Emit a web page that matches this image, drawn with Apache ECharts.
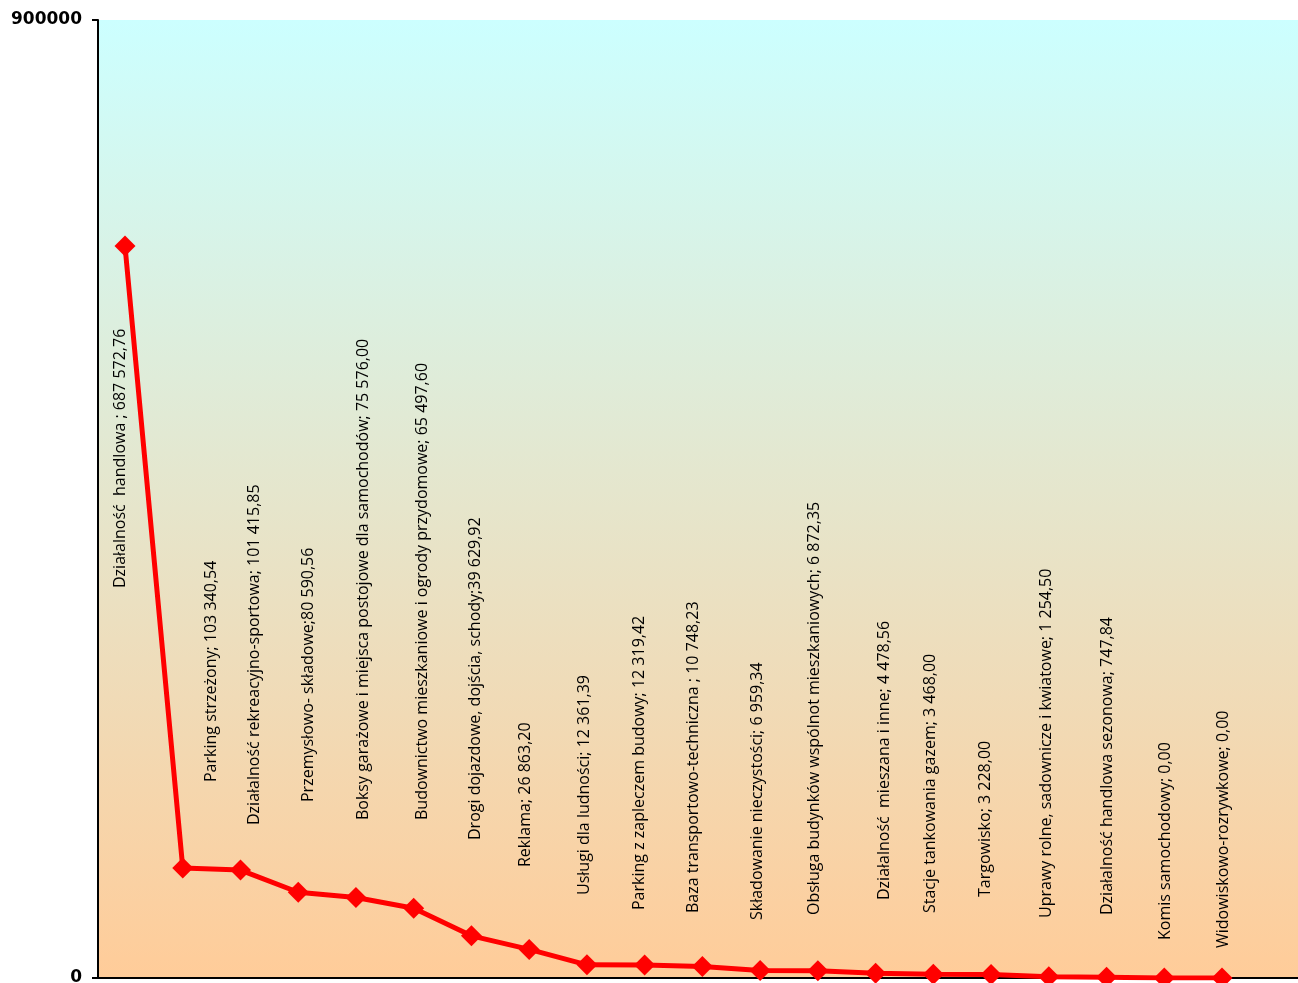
<!DOCTYPE html>
<html>
<head>
<meta charset="utf-8">
<script src="https://cdn.jsdelivr.net/npm/echarts@6/dist/echarts.min.js"></script>
<style>
  html, body { margin: 0; padding: 0; background: #fff; }
  #main { width: 1298px; height: 983px; }
</style>
</head>
<body>
<div id="main"></div>
<script>
// kategorie (nazwy) i wartości
var names = [
  'Działalność  handlowa', 'Parking strzeżony', 'Działalność rekreacyjno-sportowa',
  'Przemysłowo- składowe', 'Boksy garażowe i miejsca postojowe dla samochodów',
  'Budownictwo mieszkaniowe i ogrody przydomowe', 'Drogi dojazdowe, dojścia, schody',
  'Reklama', 'Usługi dla ludności', 'Parking z zapleczem budowy',
  'Baza transportowo-techniczna', 'Składowanie nieczystości',
  'Obsługa budynków wspólnot mieszkaniowych', 'Działalność  mieszana i inne',
  'Stacje tankowania gazem', 'Targowisko', 'Uprawy rolne, sadownicze i kwiatowe',
  'Działalność handlowa sezonowa', 'Komis samochodowy', 'Widowiskowo-rozrywkowe'
];
var seps = [' ; ', '; ', '; ', ';', '; ', '; ', ';', '; ', '; ', '; ',
  ' ; ', '; ', '; ', '; ', '; ', '; ', '; ', '; ', '; ', '; '];
var values = [
  687572.76, 103340.54, 101415.85, 80590.56, 75576.00, 65497.60, 39629.92,
  26863.20, 12361.39, 12319.42, 10748.23, 6959.34, 6872.35, 4478.56,
  3468.00, 3228.00, 1254.50, 747.84, 0.00, 0.00
];
var yTicks = [0, 900000];

// rozmieszczenie etykiet (px): przesunięcie w poziomie i dolna krawędź tekstu
var labelShiftX = [-5, 29, 14, 10, 7, 9, 4, -4, -2, -5, -9, -3, -3, 9, -3, -6, -2, 1, 1, 1];
var labelBottom = [588, 782, 825, 802, 820, 820, 840, 867, 895, 910, 913, 920, 915, 900, 913, 897, 918, 915, 940, 948];

function fmt(v) { // 687572.76 -> "687 572,76"
  var s = v.toFixed(2).split('.');
  return s[0].replace(/\B(?=(\d{3})+(?!\d))/g, ' ') + ',' + s[1];
}

var chart = echarts.init(document.getElementById('main'));
var option = {
  animation: false,
  grid: {
    left: 98, right: 0, top: 20, bottom: 5,
    outerBoundsMode: 'none',
    show: true,
    borderWidth: 0,
    backgroundColor: new echarts.graphic.LinearGradient(0, 0, 0, 1, [
      { offset: 0, color: '#ccffff' },
      { offset: 1, color: '#ffcc99' }
    ])
  },
  xAxis: {
    type: 'value',
    min: -0.468,
    max: 20.316,
    axisLine: { show: true, onZero: false, lineStyle: { color: '#000', width: 2 } },
    axisTick: { show: false },
    axisLabel: { show: false },
    splitLine: { show: false }
  },
  yAxis: {
    type: 'value',
    min: yTicks[0],
    max: yTicks[1],
    interval: yTicks[1] - yTicks[0],
    axisLine: { show: true, onZero: false, lineStyle: { color: '#000', width: 2 } },
    axisTick: { show: true, length: 6, lineStyle: { color: '#000', width: 2 } },
    axisLabel: {
      color: '#000', fontFamily: 'DejaVu Sans', fontWeight: 'bold', fontSize: 17, margin: 16,
      formatter: function (v) { return String(v); }
    },
    splitLine: { show: false }
  },
  series: [{
    type: 'line',
    data: values.map(function (v, i) { return [i, v]; }),
    symbol: 'diamond',
    symbolSize: 21,
    lineStyle: { color: '#ff0000', width: 5 },
    itemStyle: { color: '#ff0000' },
    label: {
      show: true,
      rotate: 90,
      align: 'left',
      verticalAlign: 'middle',
      color: '#000',
      fontFamily: 'Open Sans',
      fontSize: 16,
      formatter: function (p) {
        var i = p.dataIndex;
        return names[i] + seps[i] + fmt(values[i]);
      }
    },
    labelLayout: function (p) {
      var i = p.dataIndex;
      return {
        x: p.rect.x + p.rect.width / 2 + labelShiftX[i],
        y: labelBottom[i],
        align: 'left',
        verticalAlign: 'middle'
      };
    }
  }]
};
chart.setOption(option);
</script>
</body>
</html>
